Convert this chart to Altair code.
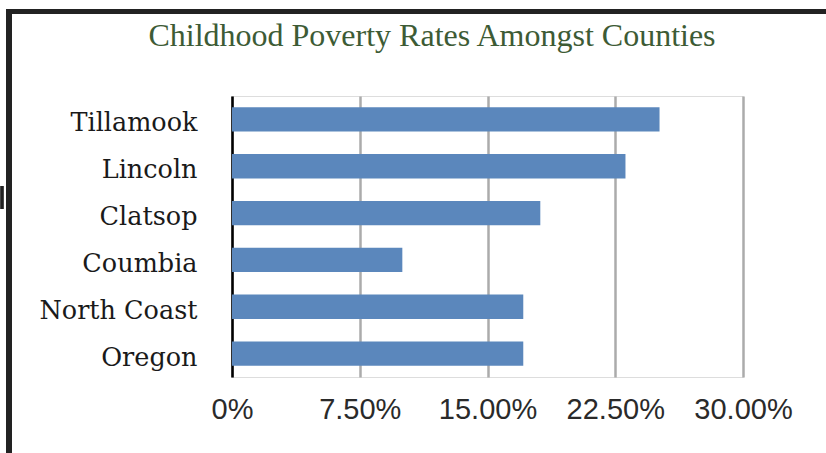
import altair as alt
import pandas as pd

title_text = ["Childhood Poverty Rates Amongst Counties"]
counties = ["Tillamook", "Lincoln", "Clatsop", "Coumbia", "North Coast\u00a0", "Oregon"]
rates = [0.251, 0.231, 0.181, 0.100, 0.171, 0.171]
tick_values = [0, 0.075, 0.15, 0.225, 0.30]

df = pd.DataFrame({"county": counties, "rate": rates})
tdf = pd.DataFrame({"t": title_text})

W, H = 511, 281
LEFT, TOP = 232, 96

bars = alt.Chart(df).mark_bar(color="#5b87bc").encode(
    x=alt.X(
        "rate:Q",
        scale=alt.Scale(domain=[0, 0.30], nice=False),
        axis=alt.Axis(
            values=tick_values,
            labelExpr="datum.value == 0 ? '0%' : format(datum.value * 100, '.2f') + '%'",
            title=None,
            domain=False,
            ticks=False,
            grid=True,
            gridColor="#ababab",
            gridWidth=2.5,
            labelFont="Liberation Sans",
            labelFontSize=29,
            labelColor="#2a2a2a",
            labelPadding=18,
            labelFlush=False,
        ),
    ),
    y=alt.Y(
        "county:N",
        sort=counties,
        scale=alt.Scale(paddingInner=0.48, paddingOuter=0.24),
        axis=alt.Axis(
            title=None,
            domain=True,
            domainColor="#000000",
            domainWidth=2.5,
            ticks=False,
            grid=False,
            labelFont="DejaVu Serif",
            labelFontSize=25.5,
            labelColor="#1a1a1a",
            labelPadding=35,
            labelOffset=4,
        ),
    ),
)

title = alt.Chart(tdf).mark_text(
    font="Liberation Serif",
    fontSize=32,
    color="#3d5b35",
    align="center",
    baseline="alphabetic",
).encode(text="t:N", x=alt.value(432 - LEFT), y=alt.value(46 - TOP))

frame_color = "#222222"
left_border = alt.Chart(df).mark_rule(color=frame_color, strokeWidth=6).encode(
    x=alt.value(9 - LEFT), y=alt.value(9 - TOP), y2=alt.value(460 - TOP)
)
top_border = alt.Chart(df).mark_rule(color=frame_color, strokeWidth=5).encode(
    x=alt.value(6 - LEFT), x2=alt.value(840 - LEFT), y=alt.value(11.5 - TOP)
)
small_mark = alt.Chart(df).mark_rule(color=frame_color, strokeWidth=2.5).encode(
    x=alt.value(2 - LEFT), y=alt.value(186 - TOP), y2=alt.value(209 - TOP)
)

chart = alt.layer(bars, title, left_border, top_border, small_mark).properties(
    width=W,
    height=H,
    autosize=alt.AutoSizeParams(type="none"),
    padding={"left": LEFT, "top": TOP, "right": 826 - LEFT - W, "bottom": 453 - TOP - H},
).configure_view(stroke=None).configure(background="white")

chart.save("out.html", embed_options={"renderer": "svg", "actions": False})
